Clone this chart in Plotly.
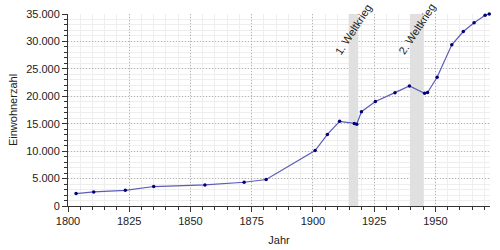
import plotly.graph_objects as go

years = [1803.3, 1810.5, 1823.4, 1835.0, 1855.9, 1871.9, 1880.9, 1900.9, 1905.9,
         1910.9, 1916.9, 1917.9, 1919.8, 1925.5, 1933.5, 1939.4, 1945.6, 1946.8,
         1950.7, 1956.7, 1961.4, 1965.8, 1970.3, 1972.0]
population = [2270, 2560, 2850, 3550, 3840, 4330, 4830, 10100, 13050,
              15430, 15060, 14900, 17200, 19050, 20660, 21880, 20550, 20700,
              23470, 29380, 31810, 33400, 34780, 35000]

wars = [("1. Weltkrieg", 1914.6, 1918.5), ("2. Weltkrieg", 1939.6, 1945.2)]
x_ticks = [1800, 1825, 1850, 1875, 1900, 1925, 1950]
y_ticks = [0, 5000, 10000, 15000, 20000, 25000, 30000, 35000]

fig = go.Figure()
fig.add_trace(go.Scatter(
    x=years, y=population, mode="lines+markers",
    line=dict(color="#5c5cb8", width=1.2),
    marker=dict(color="#00007a", size=3.5),
    cliponaxis=False, showlegend=False,
))

for label, x0, x1 in wars:
    fig.add_shape(type="rect", xref="x", yref="y", x0=x0, x1=x1, y0=0, y1=35000,
                  fillcolor="#e0e0e0", line=dict(width=0), layer="between")
    fig.add_annotation(x=(x0 + x1) / 2, y=32300, xref="x", yref="y", text=label,
                       showarrow=False, textangle=-57,
                       font=dict(size=11, color="#222"),
                       xanchor="center", yanchor="middle")

font_family = "Liberation Sans, Arial, sans-serif"
fig.update_layout(
    width=500, height=250,
    margin=dict(l=68, r=10, t=14, b=44),
    paper_bgcolor="white", plot_bgcolor="white",
    separators=",.",
    font=dict(family=font_family, size=11, color="#222"),
    xaxis=dict(
        range=[1800, 1972.3], tickvals=x_ticks, ticks="outside", ticklen=5,
        tickcolor="#333", showline=True, linecolor="#333", linewidth=1,
        showgrid=True, gridcolor="#b4b4b4", griddash="1px,2px", gridwidth=1,
        zeroline=False, automargin=False,
        minor=dict(dtick=5, tick0=1800, ticks="outside", ticklen=3, tickcolor="#333",
                   showgrid=True, gridcolor="#eeeeee", gridwidth=1, griddash="solid"),
        title=dict(text="Jahr", font=dict(size=11), standoff=10),
        tickfont=dict(size=11, color="#222"),
    ),
    yaxis=dict(
        range=[0, 35000], tickvals=y_ticks, tickformat=",d", ticks="outside",
        ticklen=5, tickcolor="#333", showline=True, linecolor="#333", linewidth=1,
        showgrid=True, gridcolor="#b4b4b4", griddash="1px,2px", gridwidth=1,
        zeroline=False, automargin=False,
        minor=dict(dtick=1000, tick0=0, ticks="outside", ticklen=3, tickcolor="#333",
                   showgrid=True, gridcolor="#eeeeee", gridwidth=1, griddash="solid"),
        title=dict(text="Einwohnerzahl", font=dict(size=11), standoff=6),
        tickfont=dict(size=11, color="#222"),
    ),
)

fig.write_html("out.html")
